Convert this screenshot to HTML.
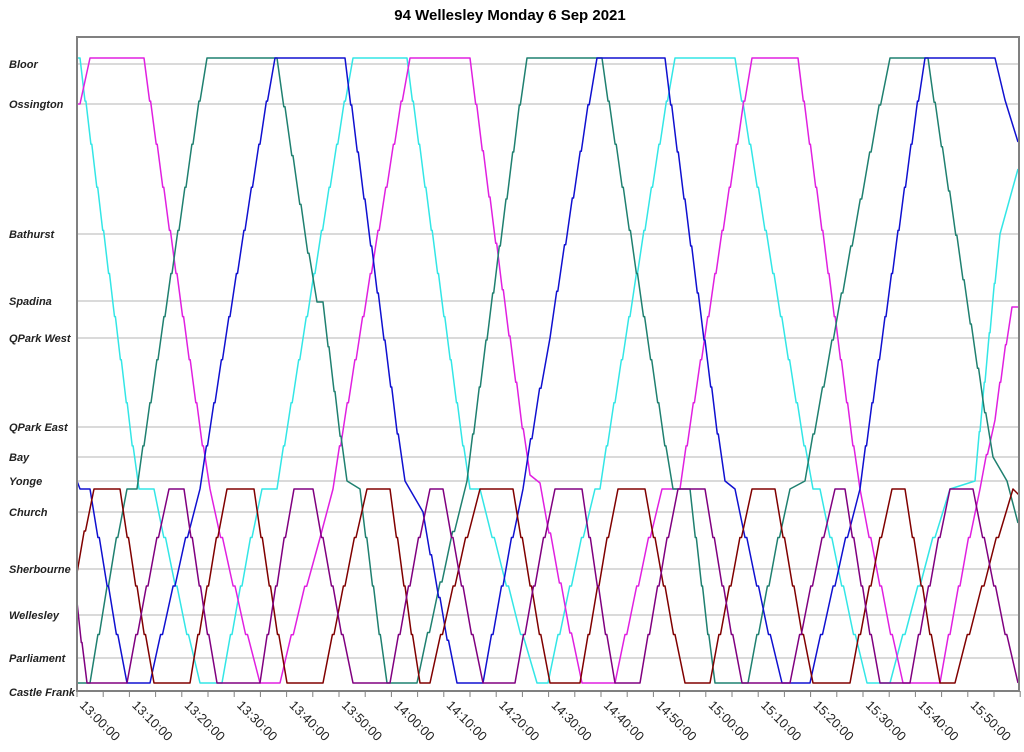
<!DOCTYPE html>
<html><head><meta charset="utf-8"><style>
html,body{margin:0;padding:0;background:#fff;}
svg{display:block;}
</style></head><body>
<svg id="s" width="1024" height="752" xmlns="http://www.w3.org/2000/svg" font-family="Liberation Sans, Arial, sans-serif">
<rect width="1024" height="752" fill="#fff"/>
<text x="510" y="20" text-anchor="middle" font-size="15" font-weight="bold">94 Wellesley Monday 6 Sep 2021</text>
<g id="grid" stroke="#b4b4b4" stroke-width="1"></g>
<g id="labels" font-size="11" font-weight="bold" font-style="italic" fill="#222"></g>
<g id="series" fill="none" stroke-width="1.5" stroke-linejoin="round"></g>
<rect x="77" y="37" width="942" height="654" fill="none" stroke="#808080" stroke-width="2"/>
<g id="xt" stroke="#808080" stroke-width="1"></g>
<g id="xl" font-size="13" fill="#222"></g>
</svg>
<script>
var NS="http://www.w3.org/2000/svg";
function el(p,t,a,txt){var e=document.createElementNS(NS,t);for(var k in a)e.setAttribute(k,a[k]);if(txt)e.textContent=txt;document.getElementById(p).appendChild(e);}
var st=[["Bloor",64],["Ossington",104],["Bathurst",234],["Spadina",301],["QPark West",338],["QPark East",427],["Bay",457],["Yonge",481],["Church",512],["Sherbourne",569],["Wellesley",615],["Parliament",658],["Castle Frank",683]];
st.forEach(function(s){
  if(s[0]!="Castle Frank") el("grid","line",{x1:77,x2:1019,y1:s[1],y2:s[1]});
  var y=s[0]=="Castle Frank"?696:s[1]+4;
  el("labels","text",{x:9,y:y},s[0]);
});
for(var i=0;i<=36;i++){var x=77+i*26.2;el("xt","line",{x1:x,x2:x,y1:691,y2:697});}
for(var i=0;i<18;i++){var x=77+i*52.4;var m=i*10;var h=13+Math.floor(m/60);var mm=m%60;
  var t=h+":"+(mm<10?"0":"")+mm+":00";
  el("xl","text",{x:0,y:0,transform:"translate("+(x+2)+",706) rotate(45)"},t);}
var T=58,B=683,Y=489;
var data={
"#33e6e6":[[77,T],[80,T],[139,Y],[154,Y],[200,B],[222,B],[262,Y],[277,Y],[353,T],[407,T],[470,Y],[480,Y],[537,B],[548,B],[595,Y],[600,Y],[675,T],[735,T],[813,Y],[820,Y],[867,B],[890,B],[950,Y],[975,481],[1000,234],[1018,169]],
"#e020e0":[[77,104],[80,104],[90,T],[144,T],[210,Y],[260,B],[280,B],[320,538],[333,Y],[410,T],[470,T],[530,475],[540,483],[582,B],[615,B],[662,Y],[680,Y],[752,T],[798,T],[860,Y],[903,B],[940,B],[980,Y],[995,420],[1012,307],[1019,307]],
"#1f8070":[[77,B],[90,B],[127,Y],[137,Y],[207,T],[277,T],[317,302],[323,302],[347,481],[360,489],[387,B],[417,B],[467,481],[527,T],[602,T],[673,Y],[690,Y],[715,B],[748,B],[790,Y],[805,481],[890,T],[928,T],[993,457],[1007,481],[1018,523]],
"#1010d0":[[77,481],[80,489],[90,489],[127,B],[150,B],[200,Y],[275,T],[345,T],[405,481],[423,512],[457,B],[483,B],[523,Y],[550,338],[597,T],[665,T],[725,481],[735,489],[782,B],[810,B],[860,Y],[925,T],[995,T],[1005,100],[1018,142]],
"#800000":[[77,573],[94,Y],[120,Y],[154,B],[190,B],[227,Y],[254,Y],[287,B],[323,B],[367,Y],[390,Y],[420,B],[430,B],[480,Y],[513,Y],[550,B],[580,B],[618,Y],[645,Y],[685,B],[710,B],[752,Y],[775,Y],[813,B],[850,B],[892,Y],[905,Y],[940,B],[955,B],[1013,Y],[1019,495]],
"#800080":[[77,602],[87,B],[127,B],[169,Y],[184,Y],[217,B],[260,B],[294,Y],[313,Y],[353,B],[390,B],[430,Y],[443,Y],[483,B],[515,B],[555,Y],[582,Y],[615,B],[640,B],[678,Y],[705,Y],[742,B],[790,B],[835,Y],[845,Y],[880,B],[910,B],[950,Y],[973,Y],[1018,B]]
};
for(var c in data){
  var pts=data[c],d="";
  for(var i=0;i<pts.length;i++){
    var p=pts[i];
    if(i==0){d="M"+p[0]+","+p[1];continue;}
    var q=pts[i-1];var dy=p[1]-q[1],dx=p[0]-q[0];
    if(Math.abs(dy)>60){
      var n=Math.round(Math.abs(dy)/45);
      for(var k=1;k<=n;k++){
        var f=k/n,x=q[0]+dx*f,y=q[1]+dy*f;
        var fx=q[0]+dx*(k-0.15)/n;
        if(k<n){d+=" L"+fx.toFixed(1)+","+y.toFixed(1)+" L"+x.toFixed(1)+","+y.toFixed(1);}
        else d+=" L"+x.toFixed(1)+","+y.toFixed(1);
      }
    } else d+=" L"+p[0]+","+p[1];
  }
  el("series","path",{d:d,stroke:c});
}
</script>
</body></html>
